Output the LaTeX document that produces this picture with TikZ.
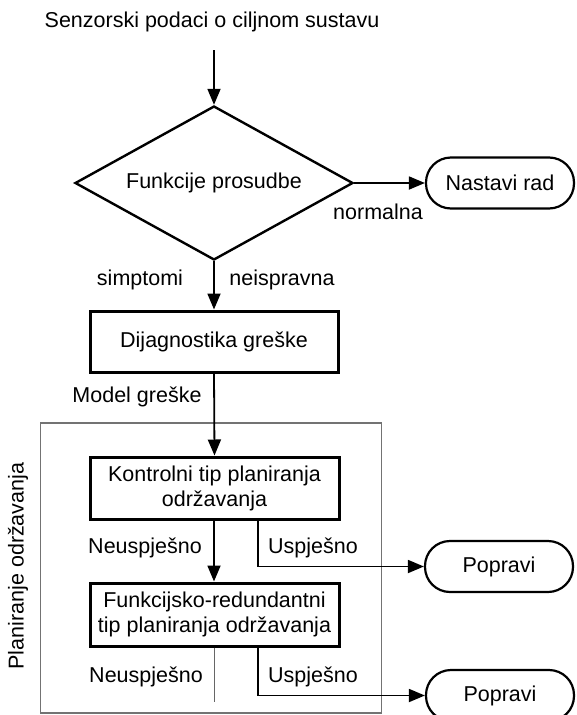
\documentclass[tikz,border=0pt]{standalone}
\usepackage{fontspec}
\setmainfont{Liberation Sans}
\usetikzlibrary{shapes.geometric,arrows.meta}
\begin{document}
\begin{tikzpicture}[x=1pt,y=-1pt,
  every node/.style={font=\fontsize{21.5}{25}\selectfont, inner sep=0pt},
  lbl/.style={},
  procbox/.style={draw, line width=3pt, align=center, minimum width=249pt},
  term/.style={draw, line width=2.2pt, rounded corners=25pt, minimum width=148pt, minimum height=51pt},
  dec/.style={draw, diamond, line width=2.4pt, aspect=1.8, minimum width=278pt, minimum height=154pt},
  flow/.style={line width=1.8pt, -{Triangle[length=16pt,width=13pt]}},
  plain/.style={line width=1.8pt},
  thin/.style={line width=1pt, draw=black!60},
  frame/.style={draw=black!55, line width=1.2pt}
]
\useasboundingbox (0,0) rectangle (576,715);
\node[frame, minimum width=341pt, minimum height=290pt] (frame) at (211,568) {};
\node[rotate=90] (plan) at (18,566) {Planiranje održavanja};

\node (src) at (212,22) {Senzorski podaci o ciljnom sustavu};
\coordinate (srcend) at (214,50);
\node[dec] (fp) at (214,183) {Funkcije prosudbe};
\node[term] (nastavi) at (500,183) {Nastavi rad};
\node (normalna) at (378,212) {normalna};
\node (simptomi) at (140,280) {simptomi};
\node (neispravna) at (282,280) {neispravna};
\node[procbox, minimum width=248pt, minimum height=61pt] (dij) at (214,341.5) {Dijagnostika greške};
\node (model) at (137,397) {Model greške};
\node[procbox, minimum height=62pt] (kon) at (214.5,488) {Kontrolni tip planiranja\\održavanja};
\node (neu1) at (145,548) {Neuspješno};
\node (usp1) at (313,548) {Uspješno};
\node[term] (pop1) at (499,566.5) {Popravi};
\node[procbox, minimum height=63pt] (fun) at (214.5,614.5) {Funkcijsko-redundantni\\tip planiranja održavanja};
\node (neu2) at (146,677) {Neuspješno};
\node (usp2) at (313,677) {Uspješno};
\node[term] (pop2) at (500,695.5) {Popravi};
\coordinate (thinend) at (214,702);

\draw[flow] (srcend) -- (fp.north);
\draw[flow] (fp.east) -- (nastavi.west);
\draw[flow] (fp.south) -- (dij.north);
\draw[flow] (dij.south) -- (kon.north);
\draw[flow] (kon.south -| 214,0) -- (fun.north -| 214,0);
\draw[flow] (kon.south -| 258,0) |- (pop1.west);
\draw[flow] (fun.south -| 258,0) |- (pop2.west);
\draw[thin] (fun.south -| 214,0) -- (thinend);
\end{tikzpicture}
\end{document}
